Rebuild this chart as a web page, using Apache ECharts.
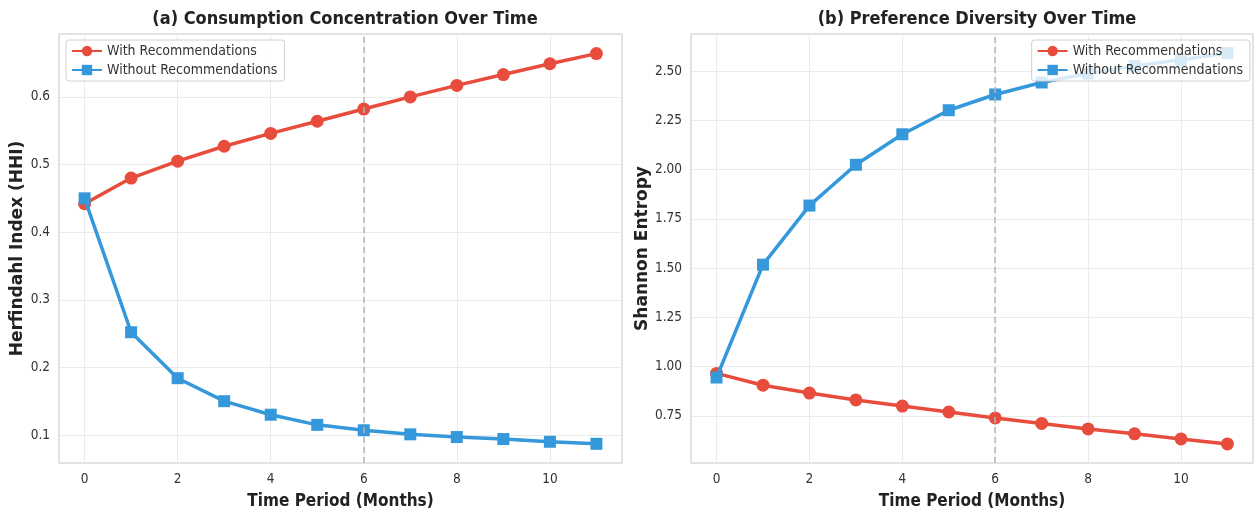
<!DOCTYPE html>
<html>
<head>
<meta charset="utf-8">
<script src="https://cdn.jsdelivr.net/npm/echarts@6/dist/echarts.min.js"></script>
<style>
  html, body { margin: 0; padding: 0; background: #fff; }
  #chart { width: 1254px; height: 510px; }
</style>
</head>
<body>
<div id="chart"></div>
<script>
"use strict";
var months = [0, 1, 2, 3, 4, 5, 6, 7, 8, 9, 10, 11];
var hhiWith = [0.442, 0.480, 0.505, 0.527, 0.546, 0.564, 0.582, 0.600, 0.617, 0.633, 0.649, 0.664];
var hhiWithout = [0.450, 0.252, 0.184, 0.150, 0.130, 0.115, 0.107, 0.101, 0.097, 0.094, 0.090, 0.087];
var entWith = [0.966, 0.906, 0.866, 0.831, 0.800, 0.770, 0.740, 0.712, 0.684, 0.659, 0.633, 0.608];
var entWithout = [0.945, 1.518, 1.818, 2.025, 2.180, 2.302, 2.382, 2.443, 2.488, 2.526, 2.558, 2.592];
var xTicks = [0, 2, 4, 6, 8, 10];
var hhiTicks = [0.1, 0.2, 0.3, 0.4, 0.5, 0.6];
var entTicks = [0.75, 1.0, 1.25, 1.5, 1.75, 2.0, 2.25, 2.5];
var markMonth = 6;

var RED = "#e74c3c", BLUE = "#3498db";
var condensed = "'DejaVu Sans Condensed', 'DejaVu Sans', sans-serif";
var boldFont = "'DejaVu Sans', sans-serif";

function pairs(ys) {
    return months.map(function (m, i) { return [m, ys[i]]; });
}

function xAxisOpt(gi) {
    return {
        type: 'value', gridIndex: gi, min: -0.55, max: 11.55,
        name: 'Time Period (Months)', nameLocation: 'middle', nameGap: 30,
        nameTextStyle: {fontFamily: condensed, fontWeight: 'bold', fontSize: 17, color: '#222'},
        axisLine: {show: false}, axisTick: {show: false, customValues: xTicks},
        axisLabel: {customValues: xTicks, fontFamily: condensed, fontSize: 13.5, color: '#333', margin: 9},
        splitLine: {show: true, lineStyle: {color: '#ebebeb', width: 1}}
    };
}

function yAxisOpt(gi, min, max, ticks, name, gap, fmt) {
    return {
        type: 'value', gridIndex: gi, min: min, max: max,
        name: name, nameLocation: 'middle', nameGap: gap, nameRotate: 90,
        nameTextStyle: {fontFamily: boldFont, fontWeight: 'bold', fontSize: 17, color: '#222'},
        axisLine: {show: false}, axisTick: {show: false, customValues: ticks},
        axisLabel: {customValues: ticks, fontFamily: condensed, fontSize: 13.5, color: '#333', margin: 9,
            formatter: fmt},
        splitLine: {show: true, lineStyle: {color: '#ebebeb', width: 1}}
    };
}

function seriesOpt(name, data, gi, color, symbol, withMark) {
    var s = {
        name: name, type: 'line', xAxisIndex: gi, yAxisIndex: gi,
        data: data, symbol: symbol, symbolSize: symbol === 'rect' ? 12 : 13,
        lineStyle: {color: color, width: 3.5}, itemStyle: {color: color},
        emphasis: {disabled: true}, animation: false, z: symbol === 'rect' ? 3 : 2
    };
    if (withMark) {
        s.markLine = {
            silent: true, symbol: 'none', label: {show: false},
            lineStyle: {color: '#b5b5b5', type: [6, 4], width: 1.5},
            data: [{xAxis: markMonth}]
        };
    }
    return s;
}

function legendOpt(pos) {
    var l = {
        top: 40, orient: 'vertical', itemGap: 5, itemWidth: 30, itemHeight: 13, z: 10,
        padding: [4, 7, 4, 5], backgroundColor: 'rgba(255,255,255,0.8)',
        borderColor: '#d0d0d0', borderWidth: 1, borderRadius: 3,
        data: ['With Recommendations', 'Without Recommendations'],
        textStyle: {fontFamily: condensed, fontSize: 14, color: '#333'}
    };
    for (var k in pos) l[k] = pos[k];
    return l;
}

var chart = echarts.init(document.getElementById('chart'));
chart.setOption({
    backgroundColor: '#fff',
    animation: false,
    title: [
        {text: '(a) Consumption Concentration Over Time', left: 340, top: 5, textAlign: 'center',
            textStyle: {fontFamily: condensed, fontWeight: 'bold', fontSize: 18, color: '#222'}},
        {text: '(b) Preference Diversity Over Time', left: 972, top: 5, textAlign: 'center',
            textStyle: {fontFamily: condensed, fontWeight: 'bold', fontSize: 18, color: '#222'}}
    ],
    legend: [legendOpt({left: 66}), legendOpt({right: 4})],
    grid: [
        {left: 59, right: 632, top: 34, bottom: 47, show: true, borderColor: '#dadada', borderWidth: 1.5,
            outerBoundsMode: 'none', containLabel: false},
        {left: 691, right: 1, top: 34, bottom: 47, show: true, borderColor: '#dadada', borderWidth: 1.5,
            outerBoundsMode: 'none', containLabel: false}
    ],
    xAxis: [xAxisOpt(0), xAxisOpt(1)],
    yAxis: [
        yAxisOpt(0, 0.0586, 0.693, hhiTicks, 'Herfindahl Index (HHI)', 33, function (v) { return v.toFixed(1); }),
        yAxisOpt(1, 0.511, 2.689, entTicks, 'Shannon Entropy', 40, function (v) { return v.toFixed(2); })
    ],
    series: [
        seriesOpt('With Recommendations', pairs(hhiWith), 0, RED, 'circle', true),
        seriesOpt('Without Recommendations', pairs(hhiWithout), 0, BLUE, 'rect', false),
        seriesOpt('With Recommendations', pairs(entWith), 1, RED, 'circle', true),
        seriesOpt('Without Recommendations', pairs(entWithout), 1, BLUE, 'rect', false)
    ]
});
</script>
</body>
</html>
